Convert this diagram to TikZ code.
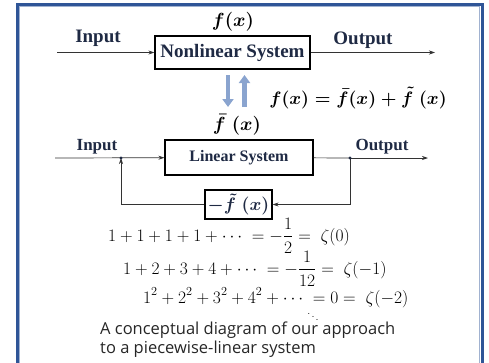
\RequirePackage{fix-cm}
\documentclass[tikz,border=0pt]{standalone}
\usepackage{amsmath}
\usepackage{fontspec}
\newfontfamily\blockfont{Liberation Serif}
\newfontfamily\capfont{Open Sans}
\usetikzlibrary{arrows.meta}
\definecolor{framecol}{HTML}{2F5597}
\definecolor{inkcol}{HTML}{1F2A44}
\definecolor{flowcol}{HTML}{8AA4CF}
\tikzset{
  sysbox/.style={draw=black, line width=1.2pt, fill=white, inner sep=0pt,
    text=inkcol, font=\blockfont\bfseries\fontsize{19}{22}\selectfont},
  lbl/.style={text=inkcol, inner sep=0pt, font=\blockfont\bfseries\fontsize{19}{22}\selectfont},
  sig/.style={draw=black!80, line width=0.7pt, -{Stealth[length=6pt,width=4pt]}},
  wire/.style={draw=black!80, line width=0.7pt},
  flow/.style={draw=flowcol, line width=4.5pt, -{Triangle[length=8pt,width=11pt]}},
  mathtxt/.style={inner sep=0pt, font=\fontsize{17.5}{21}\selectfont},
}
\begin{document}
\begin{tikzpicture}[x=1pt,y=-1pt]
        \useasboundingbox (0,0) rectangle (489,362);
        % Rahmen
        \draw[framecol, line width=3pt] (17,4.5) rectangle (482,380);
        \draw[framecol!45, line width=0.8pt] (19.5,6.5) rectangle (479.5,380);

        % Nichtlineares System
        \node[sysbox, minimum width=155pt, minimum height=33pt] (nls) at (232.5,52.5) {Nonlinear System};
        \coordinate (inA) at (57,52.5);
        \coordinate (outA) at (435,52.5);
        \draw[sig] (inA) -- (nls);
        \draw[sig] (nls) -- (outA);
        \node[lbl] (inlabA) at (98,38) {Input};
        \node[lbl] (outlabA) at (363,40) {Output};
        \node[inner sep=0pt, font=\fontsize{19}{23}\selectfont] (fnl) at (233,22) {$\boldsymbol{f(x)}$};

        % Zerlegung
        \coordinate (dnA) at (228,75);
        \coordinate (dnB) at (228,107);
        \coordinate (upA) at (244.5,107);
        \coordinate (upB) at (244.5,75);
        \draw[flow] (dnA) -- (dnB);
        \draw[flow] (upA) -- (upB);
        \node[inner sep=0pt, font=\fontsize{18}{22}\selectfont] (split) at (358,98)
          {$\boldsymbol{f(x) = \bar{f}(x) + \tilde{f}\;(x)}$};
        \node[inner sep=0pt, font=\fontsize{19}{23}\selectfont] (fbar) at (237,125) {$\boldsymbol{\bar{f}\;(x)}$};

        % Lineares System mit Rueckfuehrung
        \node[sysbox, minimum width=148pt, minimum height=35pt,
          font=\blockfont\bfseries\fontsize{16}{19}\selectfont] (ls) at (239,157.5) {Linear System};
        \coordinate (inB) at (55,158);
        \coordinate (jl) at (121,158);
        \coordinate (jr) at (350,158);
        \coordinate (outB) at (428,158);
        \node[sysbox, minimum width=67pt, minimum height=29pt,
          font=\fontsize{18}{22}\selectfont] (fb) at (238.5,204.5) {$\boldsymbol{-\tilde{f}\;(x)}$};
        \draw[sig] (inB) -- (ls);
        \draw[wire] (ls) -- (jr);
        \draw[sig] (jr) -- (outB);
        \draw[sig] (jr) |- (fb);
        \draw[sig] (fb) -| (jl);
        \fill[inkcol] (jl) circle (1.6pt);
        \fill[inkcol] (jr) circle (1.6pt);
        \node[lbl, font=\blockfont\bfseries\fontsize{17}{20}\selectfont] (inlabB) at (97,147) {Input};
        \node[lbl, font=\blockfont\bfseries\fontsize{17}{20}\selectfont] (outlabB) at (382,147) {Output};

        % Zeta-Reihen
        \node[mathtxt, anchor=base west] (zeta0) at (108,241)
          {$\displaystyle 1+1+1+1+\cdots\;=-\frac{1}{2}=\;\zeta(0)$};
        \node[mathtxt, anchor=base west] (zeta1) at (123,274)
          {$\displaystyle 1+2+3+4+\cdots\;=-\frac{1}{12}=\;\zeta(-1)$};
        \node[mathtxt, anchor=base west] (zeta2) at (143,303)
          {$\displaystyle 1^2+2^2+3^2+4^2+\cdots\;=0=\;\zeta(-2)$};
        \node[inner sep=0pt, font=\fontsize{11}{13}\selectfont] (dd) at (313,314) {$\ddots$};

        % Bildunterschrift
        \node[anchor=base west, inner sep=0pt, text=black!85, align=left,
          font=\capfont\fontsize{16.5}{19}\selectfont] (cap) at (100,353)
          {A conceptual diagram of our approach\\to a piecewise-linear system};
\end{tikzpicture}
\end{document}
